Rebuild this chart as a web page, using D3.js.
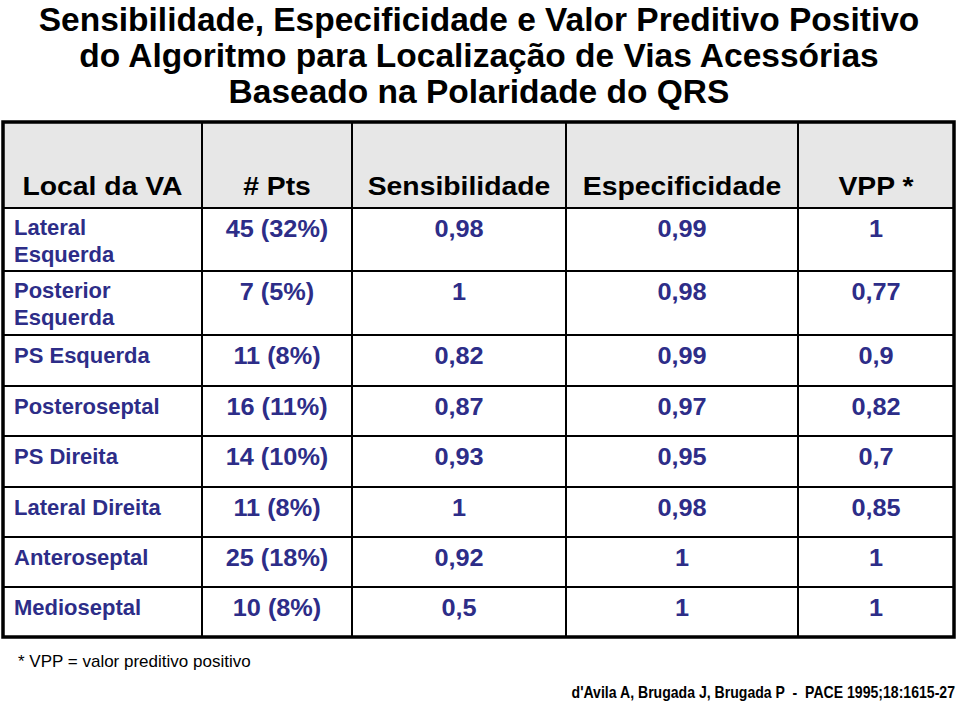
<!DOCTYPE html>
<html><head><meta charset="utf-8">
<script src="https://cdn.jsdelivr.net/npm/d3@7"></script>
<style>body{margin:0;background:#fff}svg{display:block}</style>
</head><body>
<script>
const titleLines = ["Sensibilidade, Especificidade e Valor Preditivo Positivo","do Algoritmo para Localização de Vias Acessórias","Baseado na Polaridade do QRS"];
const headers = ["Local da VA","# Pts","Sensibilidade","Especificidade","VPP *"];
const locais = [["Lateral","Esquerda"],["Posterior","Esquerda"],["PS Esquerda"],["Posteroseptal"],["PS Direita"],["Lateral Direita"],["Anteroseptal"],["Medioseptal"]];
const pts = ["45 (32%)","7 (5%)","11 (8%)","16 (11%)","14 (10%)","11 (8%)","25 (18%)","10 (8%)"];
const sensibilidade = ["0,98","1","0,82","0,87","0,93","1","0,92","0,5"];
const especificidade = ["0,99","0,98","0,99","0,97","0,95","0,98","1","1"];
const vpp = ["1","0,77","0,9","0,82","0,7","0,85","1","1"];
const footnote = "* VPP = valor preditivo positivo";
const citation = "d'Avila A, Brugada J, Brugada P  -  PACE 1995;18:1615-27";

const W=959,H=702;
const svg=d3.select("body").append("svg").attr("width",W).attr("height",H);
const FONT="'Liberation Sans', Arial, Helvetica, sans-serif";
const blue="#2d2d88";

// title
svg.append("g").selectAll("text").data(titleLines).join("text")
  .attr("x",479).attr("y",(d,i)=>[31,66.5,103][i]).attr("text-anchor","middle")
  .attr("font-family",FONT).attr("font-weight","bold").attr("font-size",33.5).attr("fill","#000").text(d=>d);

// column and row geometry
const colEdges=[3,202,352,566,798,954];
const rowEdges=[122,208,271,335,386,436,487,537,587,637];
const x=d3.scaleOrdinal().domain(d3.range(5)).range(colEdges.slice(0,5));
const xw=i=>colEdges[i+1]-colEdges[i];
const xc=i=>x(i)+xw(i)/2;
const y=d3.scaleOrdinal().domain(d3.range(9)).range(rowEdges.slice(0,9));

// header background
svg.append("rect").attr("x",3).attr("y",122).attr("width",951).attr("height",86).attr("fill","#e7e7e7");

// grid lines
const g=svg.append("g").attr("stroke","#000");
g.selectAll("line.h").data(rowEdges.slice(1,-1)).join("line").attr("class","h")
  .attr("x1",3).attr("x2",954).attr("y1",d=>d).attr("y2",d=>d).attr("stroke-width",2);
g.selectAll("line.v").data(colEdges.slice(1,-1)).join("line").attr("class","v")
  .attr("x1",d=>d).attr("x2",d=>d).attr("y1",122).attr("y2",637).attr("stroke-width",2);
svg.append("rect").attr("x",3).attr("y",122).attr("width",951).attr("height",515)
  .attr("fill","none").attr("stroke","#000").attr("stroke-width",3.5);

// header text (slightly wide face)
svg.append("g").selectAll("text").data(headers).join("text")
  .attr("transform",(d,i)=>`translate(${xc(i)},195) scale(1.09,1)`).attr("text-anchor","middle")
  .attr("font-family",FONT).attr("font-weight","bold").attr("font-size",26).attr("fill","#000").text(d=>d);

// body
const rows=locais.map((l,i)=>({l,vals:[pts[i],sensibilidade[i],especificidade[i],vpp[i]],i}));
const rg=svg.append("g").selectAll("g").data(rows).join("g")
  .attr("transform",d=>`translate(0,${y(d.i+1)})`);
rg.append("text").attr("x",14).attr("y",d=>d.i<2?26.5:27.5)
  .attr("font-family",FONT).attr("font-weight","bold").attr("font-size",22).attr("fill",blue)
  .selectAll("tspan").data(d=>d.l).join("tspan").attr("x",14).attr("dy",(d,j)=>j?27:0).text(d=>d);
rg.selectAll("text.v").data(d=>d.vals.map((v,j)=>({v,j,i:d.i}))).join("text").attr("class","v")
  .attr("transform",d=>`translate(${xc(d.j+1)},${d.i===1?29:28.5}) scale(1.1,1)`).attr("text-anchor","middle")
  .attr("font-family",FONT).attr("font-weight","bold").attr("font-size",23).attr("fill",blue).text(d=>d.v);

// footnote and citation
svg.append("text").attr("x",18).attr("y",666.5).attr("font-family",FONT).attr("font-size",17).attr("fill","#000").text(footnote);
svg.append("text").attr("transform","translate(955,697.5) scale(0.88,1)").attr("text-anchor","end").attr("font-family",FONT).attr("font-weight","bold").attr("font-size",16).attr("fill","#000").style("white-space","pre").text(citation);
</script>
</body></html>
